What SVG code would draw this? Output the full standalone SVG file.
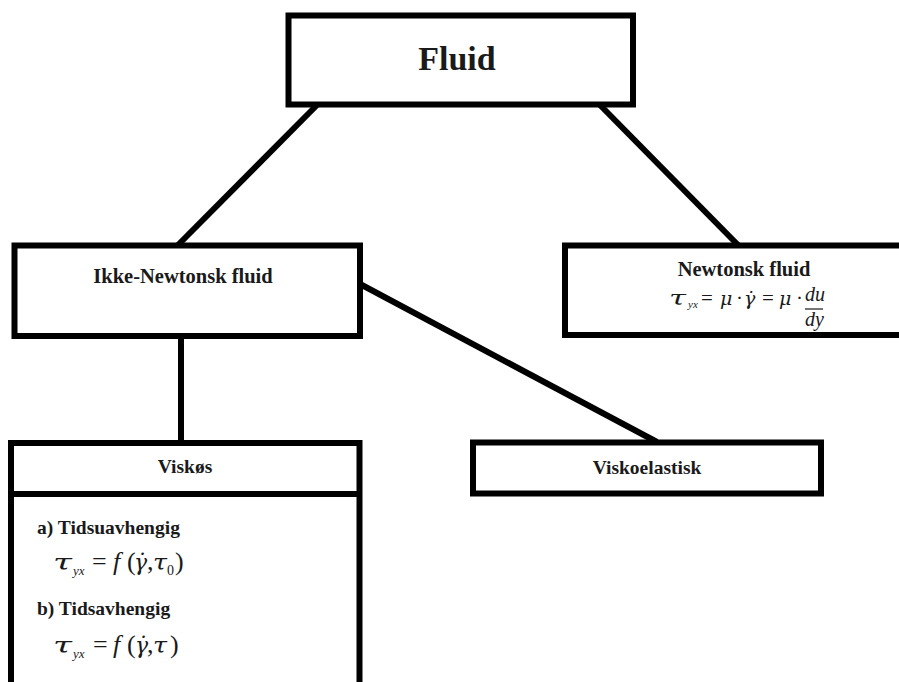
<svg xmlns="http://www.w3.org/2000/svg" width="899" height="682" viewBox="0 0 899 682">
<style>
.box{fill:#fff;stroke:#000;stroke-width:6}
.con{stroke:#000;stroke-width:6;fill:none}
.lbl{font-family:"Liberation Serif","Times New Roman",serif;font-weight:bold;fill:#1a1a1a}
.m{font-family:"Liberation Serif","Times New Roman",serif;font-style:italic;fill:#1a1a1a}
.g{font-family:"DejaVu Serif","Liberation Serif",serif;font-style:italic;fill:#1a1a1a}
.r{font-family:"Liberation Serif","Times New Roman",serif;font-style:normal;fill:#1a1a1a}
</style>
<rect width="899" height="682" fill="#fff"/>
<g id="connectors">
<line class="con" x1="318" y1="104" x2="178" y2="245"/>
<line class="con" x1="599" y1="104" x2="738" y2="245"/>
<line class="con" x1="181" y1="336" x2="181" y2="443"/>
<line class="con" x1="360" y1="284" x2="657" y2="442"/>
</g>
<g id="fluid">
<rect class="box" x="288.5" y="15.5" width="344.5" height="89"/>
<text class="lbl" x="457" y="70" font-size="34" text-anchor="middle">Fluid</text>
</g>
<g id="ikke-newtonsk">
<rect class="box" x="14.5" y="245.5" width="345.5" height="90.5" stroke-width="5.5"/>
<text class="lbl" x="183" y="283" font-size="20.5" text-anchor="middle">Ikke-Newtonsk fluid</text>
</g>
<g id="newtonsk">
<rect class="box" x="565" y="245.5" width="340" height="89.5" stroke-width="5"/>
<text class="lbl" x="744" y="276" font-size="20.5" text-anchor="middle">Newtonsk fluid</text>
<text class="g" font-size="20" x="669" y="305" textLength="17" lengthAdjust="spacingAndGlyphs">τ</text>
<text class="m" font-size="11" x="688" y="308">yx</text>
<text class="r" font-size="21" x="701" y="305">=</text>
<text class="g" font-size="19" x="720" y="305">μ</text>
<text class="r" font-size="21" x="736" y="305">·</text>
<text class="g" font-size="19" x="744" y="305">γ̇</text>
<text class="r" font-size="21" x="762" y="305">=</text>
<text class="g" font-size="19" x="779" y="305">μ</text>
<text class="r" font-size="21" x="796" y="305">·</text>
<text class="m" font-size="20" x="805" y="301">du</text>
<line x1="805" y1="309" x2="823" y2="309" stroke="#1a1a1a" stroke-width="1.2"/>
<text class="m" font-size="20" x="805" y="326">dy</text>
</g>
<g id="viskos">
<rect class="box" x="11" y="443" width="348.5" height="260"/>
<line x1="11" y1="494" x2="359.5" y2="494" stroke="#000" stroke-width="6"/>
<text class="lbl" x="185" y="473" font-size="19.5" text-anchor="middle">Viskøs</text>
<text class="lbl" x="37" y="534" font-size="19.5">a) Tidsuavhengig</text>
<text class="g" font-size="23" x="53" y="570" textLength="19" lengthAdjust="spacingAndGlyphs">τ</text>
<text class="m" font-size="13" x="73" y="575">yx</text>
<text class="r" font-size="26" x="92" y="570">=</text>
<text class="m" font-size="26" x="113" y="570">f</text>
<text class="r" font-size="26" x="127" y="570">(</text>
<text class="g" font-size="22" x="134" y="570">γ̇</text>
<text class="r" font-size="26" x="147" y="570">,</text>
<text class="g" font-size="22" x="153" y="570" textLength="14" lengthAdjust="spacingAndGlyphs">τ</text>
<text class="r" font-size="14" x="167" y="575">0</text>
<text class="r" font-size="26" x="175" y="570">)</text>
<text class="lbl" x="37" y="615" font-size="19.5">b) Tidsavhengig</text>
<text class="g" font-size="23" x="53" y="653" textLength="19" lengthAdjust="spacingAndGlyphs">τ</text>
<text class="m" font-size="13" x="73" y="658">yx</text>
<text class="r" font-size="26" x="93" y="653">=</text>
<text class="m" font-size="26" x="113" y="653">f</text>
<text class="r" font-size="26" x="127" y="653">(</text>
<text class="g" font-size="22" x="135" y="653">γ̇</text>
<text class="r" font-size="26" x="147" y="653">,</text>
<text class="g" font-size="22" x="153" y="653" textLength="14" lengthAdjust="spacingAndGlyphs">τ</text>
<text class="r" font-size="26" x="170" y="653">)</text>
</g>
<g id="viskoelastisk">
<rect class="box" x="473" y="442.5" width="348" height="51"/>
<text class="lbl" x="647" y="474" font-size="19.5" text-anchor="middle">Viskoelastisk</text>
</g>
</svg>
